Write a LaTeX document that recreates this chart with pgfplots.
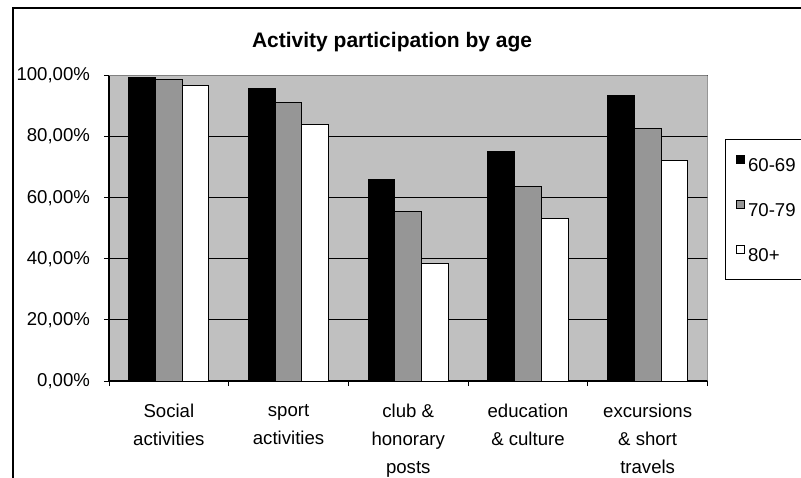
\documentclass[border=0pt]{standalone}
\usepackage{fontspec}
\setmainfont{Liberation Sans}
\usepackage{pgfplots}
\pgfplotsset{compat=1.18}
\definecolor{plotbg}{HTML}{C0C0C0}
\definecolor{midgray}{HTML}{969696}
\definecolor{bordergray}{HTML}{808080}
\begin{document}
\begin{tikzpicture}
\useasboundingbox (0,0) rectangle (400.5pt,238.5pt);
\draw[line width=0.75pt] (6.5pt,-10pt) -- (6.5pt,234.5pt) -- (420pt,234.5pt);
\begin{axis}[
  at={(54.5pt,48pt)}, anchor=south west,
  scale only axis, width=299.25pt, height=152.75pt,
  ybar=0pt, bar width=13.35pt,
  xmin=-0.5, xmax=4.5, ymin=0, ymax=1,
  axis background/.style={fill=plotbg},
  axis x line*=bottom, axis y line*=left,
  axis line style={black, line width=0.6pt, -},
  tick align=outside, major tick length=2.5pt, minor tick length=2.5pt,
  tick style={black, line width=0.5pt},
  xtick={0,1,2,3,4},
  xticklabels={{Social\\activities},{sport\\activities},{club \&\\honorary\\posts},{education\\\& culture},{excursions\\\& short\\travels}},
  every major x tick/.append style={draw opacity=0},
  minor xtick={-0.5,0.5,1.5,2.5,3.5,4.5},
  xticklabel style={align=center, yshift=-5.5pt},
  ytick={0,0.2,0.4,0.6,0.8,1},
  yticklabels={{0,00\%},{20,00\%},{40,00\%},{60,00\%},{80,00\%},{100,00\%}},
  yticklabel style={xshift=-3.5pt},
  ymajorgrids, grid style={black, line width=0.5pt},
  tick label style={font=\fontsize{9.3}{14}\selectfont},
  title={Activity participation by age},
  title style={font=\bfseries\fontsize{10.5}{12}\selectfont, at={(0.473,1)}, anchor=base, yshift=8pt},
  legend style={at={(1.0292,0.792)}, anchor=north west, draw=black, line width=0.6pt, fill=white,
    inner xsep=5pt, inner ysep=7.5pt, row sep=12.8pt, font=\fontsize{9.3}{11}\selectfont,
    nodes={inner sep=0pt}},
  legend cell align=left,
  legend image code/.code={\draw[#1, line width=0.5pt] (0pt,1.5pt) rectangle (4pt,5.5pt);\path[draw=none,fill=none] (0pt,3pt) -- (6pt,3pt);},
  every axis plot/.append style={draw=black, line width=0.5pt},
]
\addplot[fill=black] coordinates {(0,0.994) (1,0.956) (2,0.658) (3,0.750) (4,0.933)};
\addlegendentry{\makebox[40pt][l]{60-69}}
\addplot[fill=midgray] coordinates {(0,0.987) (1,0.910) (2,0.555) (3,0.636) (4,0.826)};
\addlegendentry{\makebox[40pt][l]{70-79}}
\addplot[fill=white] coordinates {(0,0.967) (1,0.838) (2,0.385) (3,0.531) (4,0.721)};
\addlegendentry{\makebox[40pt][l]{80+}}
\draw[bordergray, line width=0.6pt] (rel axis cs:0,1) -- (rel axis cs:1,1) -- (rel axis cs:1,0);
\end{axis}
\end{tikzpicture}
\end{document}
